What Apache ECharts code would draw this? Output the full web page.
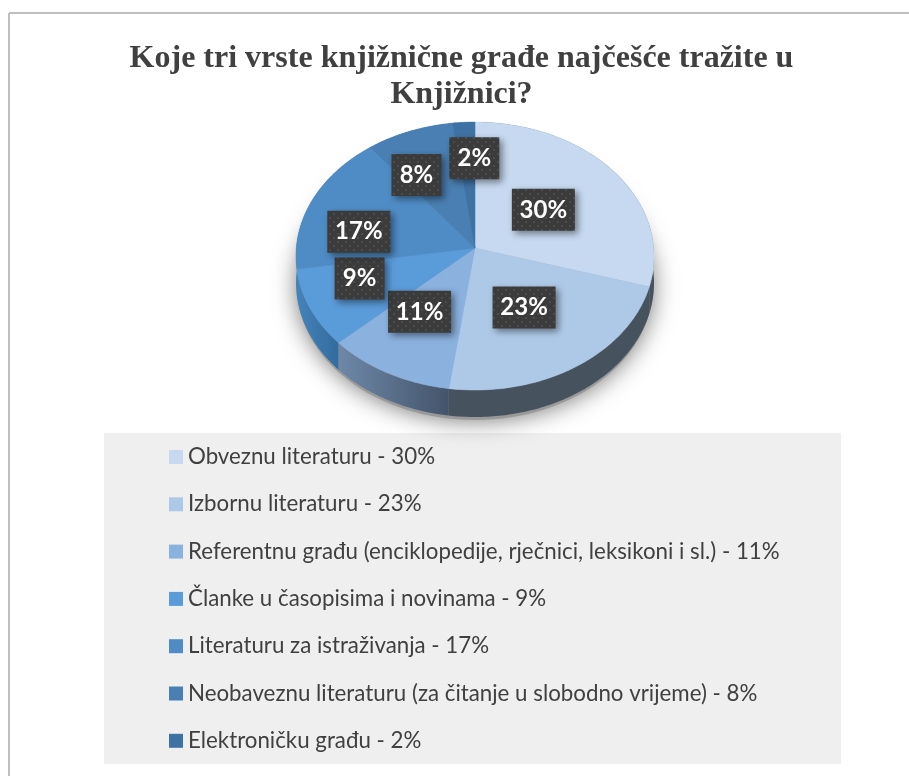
<!DOCTYPE html>
<html>
<head>
<meta charset="utf-8">
<style>
    html, body { margin: 0; padding: 0; background: #fff; }
    #main { width: 909px; height: 776px; }
</style>
</head>
<body>
<div id="main"></div>
<script src="https://cdn.jsdelivr.net/npm/echarts@6/dist/echarts.min.js"></script>
<script>
    // podaci s grafikona
    const categories = [
        'Obveznu literaturu',
        'Izbornu literaturu',
        'Referentnu građu (enciklopedije, rječnici, leksikoni i sl.)',
        'Članke u časopisima i novinama',
        'Literaturu za istraživanja',
        'Neobaveznu literaturu (za čitanje u slobodno vrijeme)',
        'Elektroničku građu'
    ];
    // postoci kako pišu na slici
    const percents = [30, 23, 11, 9, 17, 8, 2];
    // neokrugljene vrijednosti, očitane s kutova kriški
    const shares = [29.6, 22.6, 10.9, 9.4, 17.0, 8.4, 2.1];
    const titleText = 'Koje tri vrste knjižnične građe najčešće tražite u\nKnjižnici?';

    // boje
    const topColors = ['#c6d9f0', '#aec9e8', '#8bb1df', '#5a9bd9', '#4f8cc6', '#4a7fb3', '#3f72a4'];
    const sideFrom = ['#47525f', '#47525f', '#6e88a9', '#4583ba', '#3c78ae', '#3c78ae', '#3c78ae'];
    const sideTo = ['#47525f', '#47525f', '#44546a', '#336b9e', '#3c78ae', '#3c78ae', '#3c78ae'];

    // pomak natpisa od sredine kriške (natpisi su u originalu ručno razmaknuti)
    const labelNudge = [[-2, 1], [-0.5, 2], [-13, 3], [-34, 1], [-34, 8], [-25, -13], [5, -25]];

    // geometrija kriške: krug projiciran s blagom perspektivom
    const PIE = {cx: 475, cy: 248, rx: 178.7, ry: 133.5, persp: 0.06, depth: 27};

    function project(pct, r) {
        let a = pct / 100 * Math.PI * 2;
        let X = Math.sin(a) * r;
        let Y = Math.cos(a) * r;
        let w = 1 + PIE.persp * Y;
        return [PIE.cx + PIE.rx * X / w, PIE.cy - PIE.ry * Y / w];
    }

    function arcPoints(from, to) {
        let pts = [];
        let n = Math.max(2, Math.ceil((to - from) * 4));
        for (let i = 0; i <= n; i++) {
            pts.push(project(from + (to - from) * i / n, 1));
        }
        return pts;
    }

    // kumulativno: [početak, kraj, indeks]
    let acc = 0;
    const ranges = shares.map((v, i) => {
        let row = [acc, acc + v, i];
        acc += v;
        return row;
    });

    function renderSide(params, api) {
        let from = api.value(0), to = api.value(1), i = api.value(2);
        let arc = arcPoints(from, to);
        let lower = arc.map(p => [p[0], p[1] + PIE.depth]).reverse();
        return {
            type: 'polygon',
            silent: true,
            shape: {points: arc.concat(lower)},
            style: {
                fill: {
                    type: 'linear', x: 0, y: 0, x2: 1, y2: 0,
                    colorStops: [
                        {offset: 0, color: sideFrom[i]},
                        {offset: 1, color: sideTo[i]}
                    ]
                }
            }
        };
    }

    function renderTop(params, api) {
        let points = [[PIE.cx, PIE.cy]].concat(arcPoints(api.value(0), api.value(1)));
        return {
            type: 'polygon',
            shape: {points: points},
            style: {fill: topColors[api.value(2)], stroke: topColors[api.value(2)], lineWidth: 0.5}
        };
    }

    // tamna podloga s točkicama
    function dotPattern() {
        let c = document.createElement('canvas');
        c.width = c.height = 8;
        let ctx = c.getContext('2d');
        ctx.fillStyle = '#3b3b3b';
        ctx.fillRect(0, 0, 8, 8);
        ctx.fillStyle = '#4c4c4c';
        ctx.fillRect(1, 1, 2, 2);
        ctx.fillRect(5, 5, 2, 2);
        return c;
    }
    const pattern = {image: dotPattern(), repeat: 'repeat'};

    function renderLabel(params, api) {
        let from = api.value(0), to = api.value(1), i = api.value(2);
        let p = project((from + to) / 2, 0.5);
        let text = percents[i] + '%';
        let x = p[0] + labelNudge[i][0];
        let y = p[1] + labelNudge[i][1];
        let w = text.length > 2 ? 63 : 50;
        let h = 42;
        return {
            type: 'group',
            silent: true,
            children: [
                {
                    type: 'rect',
                    shape: {x: x - w / 2, y: y - h / 2, width: w, height: h},
                    style: {
                        fill: pattern,
                        shadowBlur: 7,
                        shadowOffsetX: 3,
                        shadowOffsetY: 3,
                        shadowColor: 'rgba(0,0,0,0.45)'
                    }
                },
                {
                    type: 'text',
                    x: x,
                    y: y,
                    style: {
                        text: text,
                        fill: '#fff',
                        font: 'bold 24px Lato',
                        align: 'center',
                        verticalAlign: 'middle'
                    }
                }
            ]
        };
    }

    let series = [{
        type: 'custom',
        name: 'side',
        coordinateSystem: 'none',
        silent: true,
        data: ranges,
        renderItem: renderSide
    }];
    categories.forEach((name, i) => {
        series.push({
            type: 'custom',
            name: name,
            coordinateSystem: 'none',
            itemStyle: {color: topColors[i]},
            data: [ranges[i]],
            renderItem: renderTop
        });
    });
    series.push({
        type: 'custom',
        name: 'labels',
        coordinateSystem: 'none',
        silent: true,
        data: ranges,
        renderItem: renderLabel
    });

    let myChart = echarts.init(document.getElementById('main'));
    myChart.setOption({
        animation: false,
        backgroundColor: '#fff',
        title: {
            text: titleText,
            left: 456.5,
            top: 35.5,
            textAlign: 'center',
            textStyle: {
                fontFamily: 'Liberation Serif',
                fontWeight: 'bold',
                fontSize: 32,
                lineHeight: 36,
                color: '#404040'
            }
        },
        legend: {
            data: categories,
            orient: 'vertical',
            left: 169,
            top: 446,
            padding: 0,
            icon: 'rect',
            itemWidth: 14,
            itemHeight: 14,
            itemGap: 25.3,
            selectedMode: false,
            textStyle: {
                fontFamily: 'Lato',
                fontSize: 22.3,
                lineHeight: 20,
                color: '#404040'
            },
            formatter: function (name) {
                return name + ' - ' + percents[categories.indexOf(name)] + '%';
            }
        },
        graphic: [
            // okvir i siva podloga legende
            {type: 'rect', z: -10, silent: true, shape: {x: 104, y: 433, width: 737, height: 331}, style: {fill: '#efefef'}},
            {type: 'line', z: -10, silent: true, shape: {x1: 9, y1: 13, x2: 909, y2: 13}, style: {stroke: '#bfbfbf', lineWidth: 2}},
            {type: 'line', z: -10, silent: true, shape: {x1: 9, y1: 13, x2: 9, y2: 776}, style: {stroke: '#bfbfbf', lineWidth: 2}},
            // sjena ispod kriške
            {
                type: 'ellipse', z: -5, silent: true,
                shape: {cx: 475, cy: 286, rx: 178, ry: 134},
                style: {fill: '#999', shadowBlur: 24, shadowColor: 'rgba(0,0,0,0.55)'}
            }
        ],
        series: series
    });
</script>
</body>
</html>
